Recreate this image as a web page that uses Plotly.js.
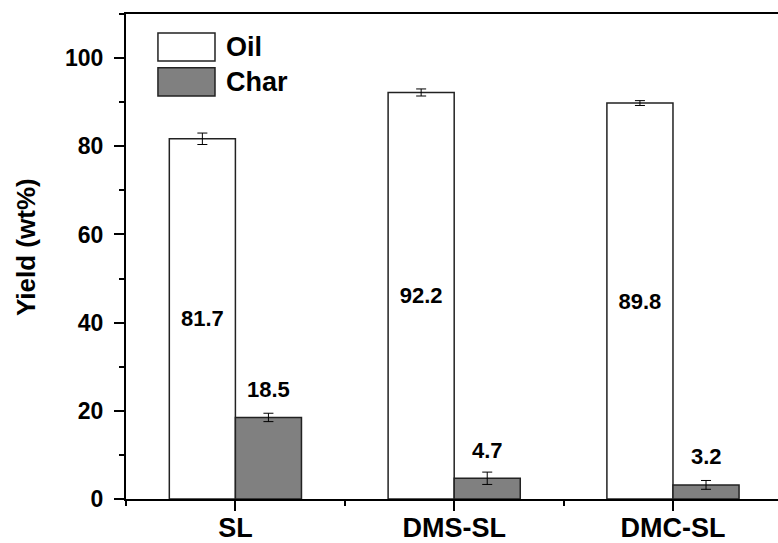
<!DOCTYPE html>
<html>
<head>
<meta charset="utf-8">
<script src="https://cdn.plot.ly/plotly-3.0.1.min.js"></script>
<style>html,body{margin:0;padding:0;background:#fff;overflow:hidden;}#chart{width:778px;height:543px;}</style>
</head>
<body>
<div id="chart"></div>
<script>
// ---- data ----
const categories = ["SL", "DMS-SL", "DMC-SL"];
const catPos = [1, 2, 3];
const oilYield = [81.7, 92.2, 89.8];
const oilErr = [1.3, 0.8, 0.55];
const charYield = [18.5, 4.7, 3.2];
const charErr = [0.95, 1.4, 1.0];
const yTicks = [0, 20, 40, 60, 80, 100];

const FONT = "Liberation Sans, Arial, Helvetica, sans-serif";
const BARGAP = 0.396;
const halfBar = (1 - BARGAP) / 4;

const oil = {
  type: "bar", name: "Oil", x: catPos, y: oilYield,
  marker: {color: "#ffffff", line: {color: "#222222", width: 1.5}},
  error_y: {type: "data", array: oilErr, visible: true, color: "#000", thickness: 1, width: 5},
  text: oilYield.map(v => v.toFixed(1)),
  textposition: "inside", insidetextanchor: "middle", textangle: 0,
  textfont: {family: FONT, size: 22, color: "#000", weight: 700},
  constraintext: "none",
  showlegend: false
};
const charT = {
  type: "bar", name: "Char", x: catPos, y: charYield,
  marker: {color: "#808080", line: {color: "#222222", width: 1.5}},
  error_y: {type: "data", array: charErr, visible: true, color: "#000", thickness: 1, width: 5},
  showlegend: false
};

const annotations = charYield.map((v, i) => ({
  x: catPos[i] + halfBar, y: v, xref: "x", yref: "y",
  text: v.toFixed(1), showarrow: false, yshift: 28,
  font: {family: FONT, size: 22, color: "#000", weight: 700}
}));
annotations.push(
  {x: 0.150, y: 0.931, xref: "paper", yref: "paper", xanchor: "left", yanchor: "middle",
   text: "Oil", showarrow: false, font: {family: FONT, size: 27, color: "#000", weight: 700}},
  {x: 0.150, y: 0.860, xref: "paper", yref: "paper", xanchor: "left", yanchor: "middle",
   text: "Char", showarrow: false, font: {family: FONT, size: 27, color: "#000", weight: 700}},
  {x: -0.153, y: 0.52, xref: "paper", yref: "paper", xanchor: "center", yanchor: "middle",
   textangle: -90, text: "Yield (wt%)", showarrow: false,
   font: {family: FONT, size: 26, color: "#000", weight: 700}}
);

const shapes = [
  {type: "rect", xref: "paper", yref: "paper", x0: 0.049, x1: 0.1365, y0: 0.903, y1: 0.961,
   fillcolor: "#ffffff", line: {color: "#222", width: 1.5}},
  {type: "rect", xref: "paper", yref: "paper", x0: 0.049, x1: 0.1365, y0: 0.831, y1: 0.889,
   fillcolor: "#808080", line: {color: "#222", width: 1.5}}
];

const layout = {
  width: 778, height: 543,
  margin: {l: 126, r: 0, t: 14, b: 44},
  paper_bgcolor: "#fff", plot_bgcolor: "#fff",
  barmode: "group", bargap: BARGAP, bargroupgap: 0,
  font: {family: FONT, color: "#000"},
  xaxis: {
    type: "linear", range: [0.5, 3.48],
    tickmode: "array", tickvals: catPos, ticktext: categories,
    ticks: "outside", ticklen: 10, tickwidth: 2, tickcolor: "#000",
    minor: {tickmode: "array", tickvals: [0.5, 1.5, 2.5, 3.5], ticks: "outside", ticklen: 5, tickwidth: 2, tickcolor: "#000"},
    showline: true, linewidth: 2, linecolor: "#000", mirror: true,
    showgrid: false, zeroline: false,
    ticklabelstandoff: -6,
    tickfont: {family: FONT, size: 27, color: "#000", weight: 700}
  },
  yaxis: {
    range: [0, 110],
    tickmode: "array", tickvals: yTicks,
    ticks: "outside", ticklen: 10, tickwidth: 2, tickcolor: "#000",
    minor: {dtick: 10, ticks: "outside", ticklen: 5, tickwidth: 2, tickcolor: "#000"},
    showline: true, linewidth: 2, linecolor: "#000",
    showgrid: false, zeroline: false,
    ticklabelstandoff: 6,
    tickfont: {family: FONT, size: 23, color: "#000", weight: 700}
  },
  annotations: annotations,
  shapes: shapes
};

Plotly.newPlot("chart", [oil, charT], layout, {displayModeBar: false, staticPlot: true});
</script>
</body>
</html>
